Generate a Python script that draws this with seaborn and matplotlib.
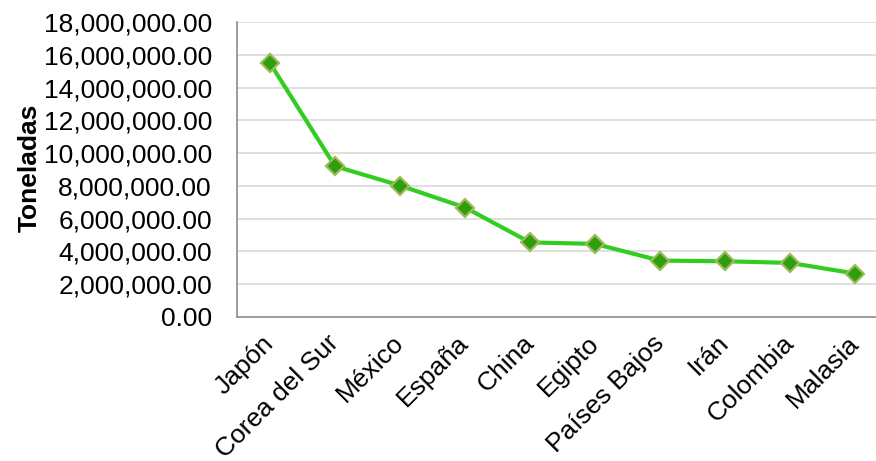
import matplotlib
matplotlib.use("Agg")
import matplotlib.pyplot as plt
import matplotlib.ticker as mticker
import seaborn as sns
import pandas as pd

paises = ["Japón", "Corea del Sur", "México", "España", "China", "Egipto",
          "Países Bajos", "Irán", "Colombia", "Malasia"]
toneladas = [15490000, 9200000, 8020000, 6680000, 4550000, 4460000,
             3440000, 3400000, 3300000, 2650000]

df = pd.DataFrame({"pais": paises, "toneladas": toneladas})

sns.set_theme(style="white")
plt.rcParams["font.family"] = ["Liberation Sans", "DejaVu Sans"]

fig = plt.figure(figsize=(8.76, 4.61), dpi=100)
ax = fig.add_axes([0.2705, 0.3124, 0.7295, 0.6399])

sns.lineplot(data=df, x="pais", y="toneladas", sort=False, ax=ax,
             color="#33CC22", linewidth=3, marker="D", markersize=9.5,
             markerfacecolor="#2E9E0E", markeredgecolor="#9BBB59",
             markeredgewidth=1.6)

ax.set_ylim(0, 18000000)
ax.set_xlim(-0.508, 9.32)
ax.yaxis.set_major_locator(mticker.MultipleLocator(2000000))
ax.yaxis.set_major_formatter(mticker.FuncFormatter(lambda v, p: f"{v:,.2f}"))
ax.grid(axis="y", color="#D9D9D9", linewidth=1.2)
ax.set_axisbelow(True)

for s in ["top", "right"]:
    ax.spines[s].set_visible(False)
for s in ["left", "bottom"]:
    ax.spines[s].set_color("#8C8C8C")
    ax.spines[s].set_linewidth(1.2)

ax.tick_params(axis="y", left=False, labelsize=19, pad=12, labelcolor="black")
ax.tick_params(axis="x", bottom=False, labelsize=19, labelcolor="black", pad=10)
plt.setp(ax.get_xticklabels(), rotation=45, ha="right", va="center",
         rotation_mode="anchor")

ax.set_xlabel("")
ax.set_ylabel("Toneladas", fontsize=19, fontweight="bold", color="black")
ax.yaxis.set_label_coords(-0.305, 0.505)

fig.savefig("out.png", dpi=100)
